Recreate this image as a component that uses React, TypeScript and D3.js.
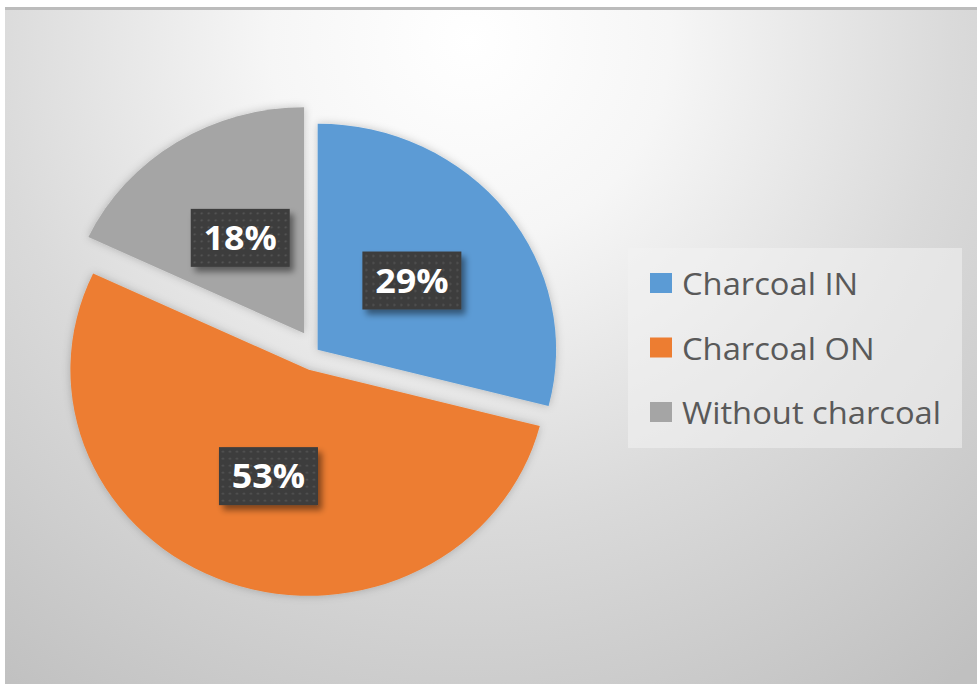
import * as d3 from 'd3';

const categories = ['Charcoal IN', 'Charcoal ON', 'Without charcoal'];
const values = [29, 53, 18];
const explode = [2, 20, 21];
const colors = ['#5b9bd5', '#ed7d31', '#a5a5a5'];

const WIDTH = 977;
const HEIGHT = 684;
const CENTER = { x: 316, y: 351 };
const RADIUS = 226;
const STRETCH = 1.055;

const LEGEND = { x: 628, y: 248, w: 334, h: 200, rowH: 64.5 };

export default function App() {
  const pie = d3.pie<number>().sort(null).value((d) => d)(values);
  const arc = d3.arc<d3.PieArcDatum<number>>().innerRadius(0).outerRadius(RADIUS);
  const total = d3.sum(values);

  return (
    <div style={{ position: 'absolute', left: 0, top: 0 }}>
      <svg width={WIDTH} height={HEIGHT} style={{ display: 'block' }}>
        <defs>
          <radialGradient id="bg" gradientUnits="userSpaceOnUse" cx={470} cy={40} r={800}>
            <stop offset="0" stopColor="#ffffff" />
            <stop offset="0.25" stopColor="#f6f6f6" />
            <stop offset="0.6" stopColor="#dadada" />
            <stop offset="1" stopColor="#c0c0c0" />
          </radialGradient>
          <pattern id="dots" width={7} height={7} patternUnits="userSpaceOnUse">
            <rect width={7} height={7} fill="#3d3d3d" />
            <circle cx={3.5} cy={3.5} r={1.1} fill="#575757" />
          </pattern>
          <filter id="sliceShadow" x="-20%" y="-20%" width="140%" height="140%">
            <feDropShadow dx={0} dy={0} stdDeviation={4} floodColor="#000" floodOpacity={0.22} />
          </filter>
          <filter id="boxShadow" x="-30%" y="-30%" width="160%" height="160%">
            <feDropShadow dx={4} dy={5} stdDeviation={3} floodColor="#000" floodOpacity={0.45} />
          </filter>
        </defs>

        {/* Background */}
        <rect x={5} y={8} width={WIDTH - 5} height={HEIGHT - 8} fill="url(#bg)" />
        <rect x={5} y={7} width={WIDTH - 5} height={3} fill="#bcbcbc" />

        {/* Slices */}
        <g transform={`translate(${CENTER.x},${CENTER.y}) scale(${STRETCH},1)`}>
          {pie.map((d, i) => {
            const mid = (d.startAngle + d.endAngle) / 2;
            const ox = explode[i] * Math.sin(mid);
            const oy = -explode[i] * Math.cos(mid);
            return (
              <path
                key={categories[i]}
                d={arc(d) ?? ''}
                transform={`translate(${ox},${oy})`}
                fill={colors[i]}
                filter="url(#sliceShadow)"
              />
            );
          })}
        </g>

        {/* Data labels */}
        {pie.map((d, i) => {
          const mid = (d.startAngle + d.endAngle) / 2;
          const [cx, cy] = arc.centroid(d);
          const x = CENTER.x + STRETCH * (cx + explode[i] * Math.sin(mid));
          const y = CENTER.y + cy - explode[i] * Math.cos(mid);
          const pct = `${Math.round((values[i] / total) * 100)}%`;
          return (
            <g key={categories[i]} transform={`translate(${x},${y})`}>
              <rect x={-49.5} y={-29} width={99} height={58} fill="url(#dots)" filter="url(#boxShadow)" />
              <text
                transform={`scale(${STRETCH},1)`}
                textAnchor="middle"
                dy="0.36em"
                fill="#ffffff"
                fontFamily="'Open Sans', sans-serif"
                fontWeight={700}
                fontSize={34}
              >
                {pct}
              </text>
            </g>
          );
        })}

        {/* Legend */}
        <rect x={LEGEND.x} y={LEGEND.y} width={LEGEND.w} height={LEGEND.h} fill="#f2f2f2" fillOpacity={0.55} />
        {categories.map((c, i) => {
          const baseY = 295 + i * LEGEND.rowH;
          return (
            <g key={c}>
              <rect x={650} y={baseY - 22} width={22} height={20} fill={colors[i]} />
              <text
                transform={`translate(682,${baseY}) scale(${STRETCH},1)`}
                fill="#595959"
                fontFamily="'Open Sans', sans-serif"
                fontSize={31}
              >
                {c}
              </text>
            </g>
          );
        })}
      </svg>
    </div>
  );
}
